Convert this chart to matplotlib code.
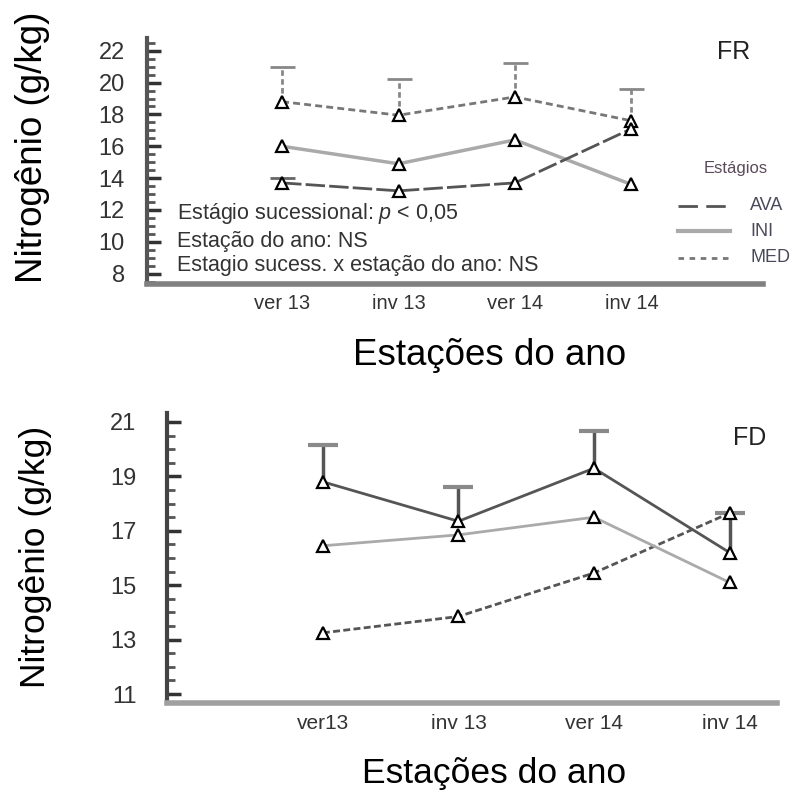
import numpy as np
import matplotlib
matplotlib.use("Agg")
import matplotlib.pyplot as plt
from matplotlib.ticker import MultipleLocator
from matplotlib.lines import Line2D

plt.rcParams['font.family'] = ['Liberation Sans', 'DejaVu Sans']
plt.rcParams['mathtext.fontset'] = 'custom'
plt.rcParams['mathtext.it'] = 'Liberation Sans:italic'
plt.rcParams['mathtext.rm'] = 'Liberation Sans'

# ---------------- data ----------------
seasons_fr = ["ver 13", "inv 13", "ver 14", "inv 14"]
seasons_fd = ["ver13", "inv 13", "ver 14", "inv 14"]

fr_ava = [13.7, 13.2, 13.7, 17.1]
fr_ava_err = [0.3, 0.0, 0.0, 0.0]
fr_ini = [16.0, 14.9, 16.4, 13.6]
fr_med = [18.8, 17.95, 19.1, 17.6]
fr_med_err = [2.2, 2.25, 2.1, 2.0]

fd_top = [18.8, 17.35, 19.3, 16.2]
fd_top_err = [1.35, 1.25, 1.35, 1.45]
fd_ini = [16.45, 16.85, 17.5, 15.1]
fd_low = [13.25, 13.85, 15.45, 17.65]

legend_labels = ["AVA", "INI", "MED"]
legend_title = "Estágios"
stats_lines = ["Estágio sucessional: $\\it{p}$ < 0,05",
               "Estação do ano: NS",
               "Estagio sucess. x estação do ano: NS"]

W = H = 792
fig = plt.figure(figsize=(7.92, 7.92), dpi=100)

def fx(px):
    return px / W

def fy(py):
    return 1 - py / H

tri = dict(marker='^', markersize=8, markerfacecolor='white',
           markeredgecolor='black', markeredgewidth=1.6, zorder=5)

def upper_errorbar(ax, xs, ys, errs, color, capcolor, lw, capsize, capthick, ls='-'):
    xs = np.asarray(xs)
    ys = np.asarray(ys, dtype=float)
    errs = np.asarray(errs, dtype=float)
    m = errs > 0
    c = ax.errorbar(xs[m], ys[m], yerr=[np.zeros(m.sum()), errs[m]], fmt='none',
                    ecolor=color, elinewidth=lw, capsize=capsize, capthick=capthick,
                    zorder=2)
    caps = c.lines[1]
    if len(caps) == 2:
        caps[0].set_visible(False)
        caps[1].set_markeredgecolor(capcolor)
    for ln in c.lines[2]:
        ln.set_linestyle(ls)
    return c

def style_axes(ax, left_color, bottom_color):
    for s in ['top', 'right']:
        ax.spines[s].set_visible(False)
    ax.spines['left'].set_color(left_color)
    ax.spines['left'].set_linewidth(3)
    ax.spines['bottom'].set_color(bottom_color)
    ax.spines['bottom'].set_linewidth(4)
    ax.tick_params(axis='x', length=0, labelsize=14.5, pad=7, colors='#333333')
    ax.tick_params(axis='y', which='major', direction='in', length=10, width=2.5,
                   color='#333333', labelsize=17, labelcolor='#333333')
    ax.tick_params(axis='y', which='minor', direction='in', length=6, width=2,
                   color='#555555')

# ---------------- top panel (FR) ----------------
ax1 = fig.add_axes([fx(147), fy(284), fx(763 - 147), (284 - 38) / H])
x = np.arange(1, 5)

upper_errorbar(ax1, x, fr_med, fr_med_err, '#888888', '#888888', 2, 9, 2, ls=(0, (2, 1.2)))
upper_errorbar(ax1, x, fr_ava, fr_ava_err, '#666666', '#666666', 2, 9, 2)

ax1.plot(x, fr_med, color='#777777', lw=2, linestyle=(0, (2.5, 1.5)), **tri)
ax1.plot(x, fr_ini, color='#aaaaaa', lw=2.5, linestyle='-', **tri)
ax1.plot(x, fr_ava, color='#555555', lw=2, linestyle=(0, (7, 1.5)), **tri)

ax1.set_xlim(-0.16, 5.13)
ax1.set_ylim(7.35, 22.8)
ax1.set_xticks(x)
ax1.set_xticklabels(seasons_fr)
ax1.set_yticks(np.arange(8, 23, 2))
ax1.yaxis.set_minor_locator(MultipleLocator(0.5))
style_axes(ax1, '#555555', '#808080')
ax1.tick_params(axis='y', pad=16)

fig.text(fx(717), fy(52), "FR", fontsize=18, color='#222222', va='center', ha='left')

# stats annotation
for t, yy in zip(stats_lines, [213, 241, 266]):
    fig.text(fx(177), fy(yy), t, fontsize=15.5, color='#333333', va='center', ha='left')

# legend (manual)
fig.text(fx(736), fy(168), legend_title, fontsize=12, color='#5a4a5a', ha='center', va='center')
leg_styles = [dict(color='#555555', lw=2, linestyle=(0, (7, 3))),
              dict(color='#aaaaaa', lw=3, linestyle='-'),
              dict(color='#777777', lw=2, linestyle=(0, (2, 2)))]
for lab, st, yy in zip(legend_labels, leg_styles, [206, 231, 258]):
    fig.add_artist(Line2D([fx(678), fx(730)], [fy(yy), fy(yy)],
                          transform=fig.transFigure, **st))
    fig.text(fx(750), fy(yy), lab, fontsize=13, color='#4a4a5a', ha='left', va='center')

fig.text(fx(490), fy(355), "Estações do ano", fontsize=26.5, color='black',
         ha='center', va='center')
fig.text(fx(33), fy(147), "Nitrogênio (g/kg)", fontsize=26.5, color='black',
         ha='center', va='center', rotation=90)

# ---------------- bottom panel (FD) ----------------
ax2 = fig.add_axes([fx(167), fy(703), fx(777 - 167), (703 - 413) / H])

upper_errorbar(ax2, x, fd_top, fd_top_err, '#555555', '#8a8a8a', 2.5, 11, 3)

ax2.plot(x, fd_low, color='#555555', lw=2, linestyle=(0, (2.5, 1.2)), **tri)
ax2.plot(x, fd_ini, color='#aaaaaa', lw=2, linestyle='-', **tri)
ax2.plot(x, fd_top, color='#555555', lw=2, linestyle='-', **tri)

ax2.set_xlim(-0.15, 4.35)
ax2.set_ylim(10.67, 21.33)
ax2.set_xticks(x)
ax2.set_xticklabels(seasons_fd)
ax2.set_yticks(np.arange(11, 22, 2))
ax2.yaxis.set_minor_locator(MultipleLocator(0.5))
style_axes(ax2, '#444444', '#a0a0a0')
ax2.tick_params(axis='y', pad=22)
ax2.tick_params(axis='x', labelsize=15, pad=8)

fig.text(fx(733), fy(438), "FD", fontsize=18, color='#222222', va='center', ha='left')
fig.text(fx(494), fy(773), "Estações do ano", fontsize=25.5, color='black',
         ha='center', va='center')
fig.text(fx(36), fy(557), "Nitrogênio (g/kg)", fontsize=25.5, color='black',
         ha='center', va='center', rotation=90)

fig.savefig("out.png", dpi=100, facecolor='white')
